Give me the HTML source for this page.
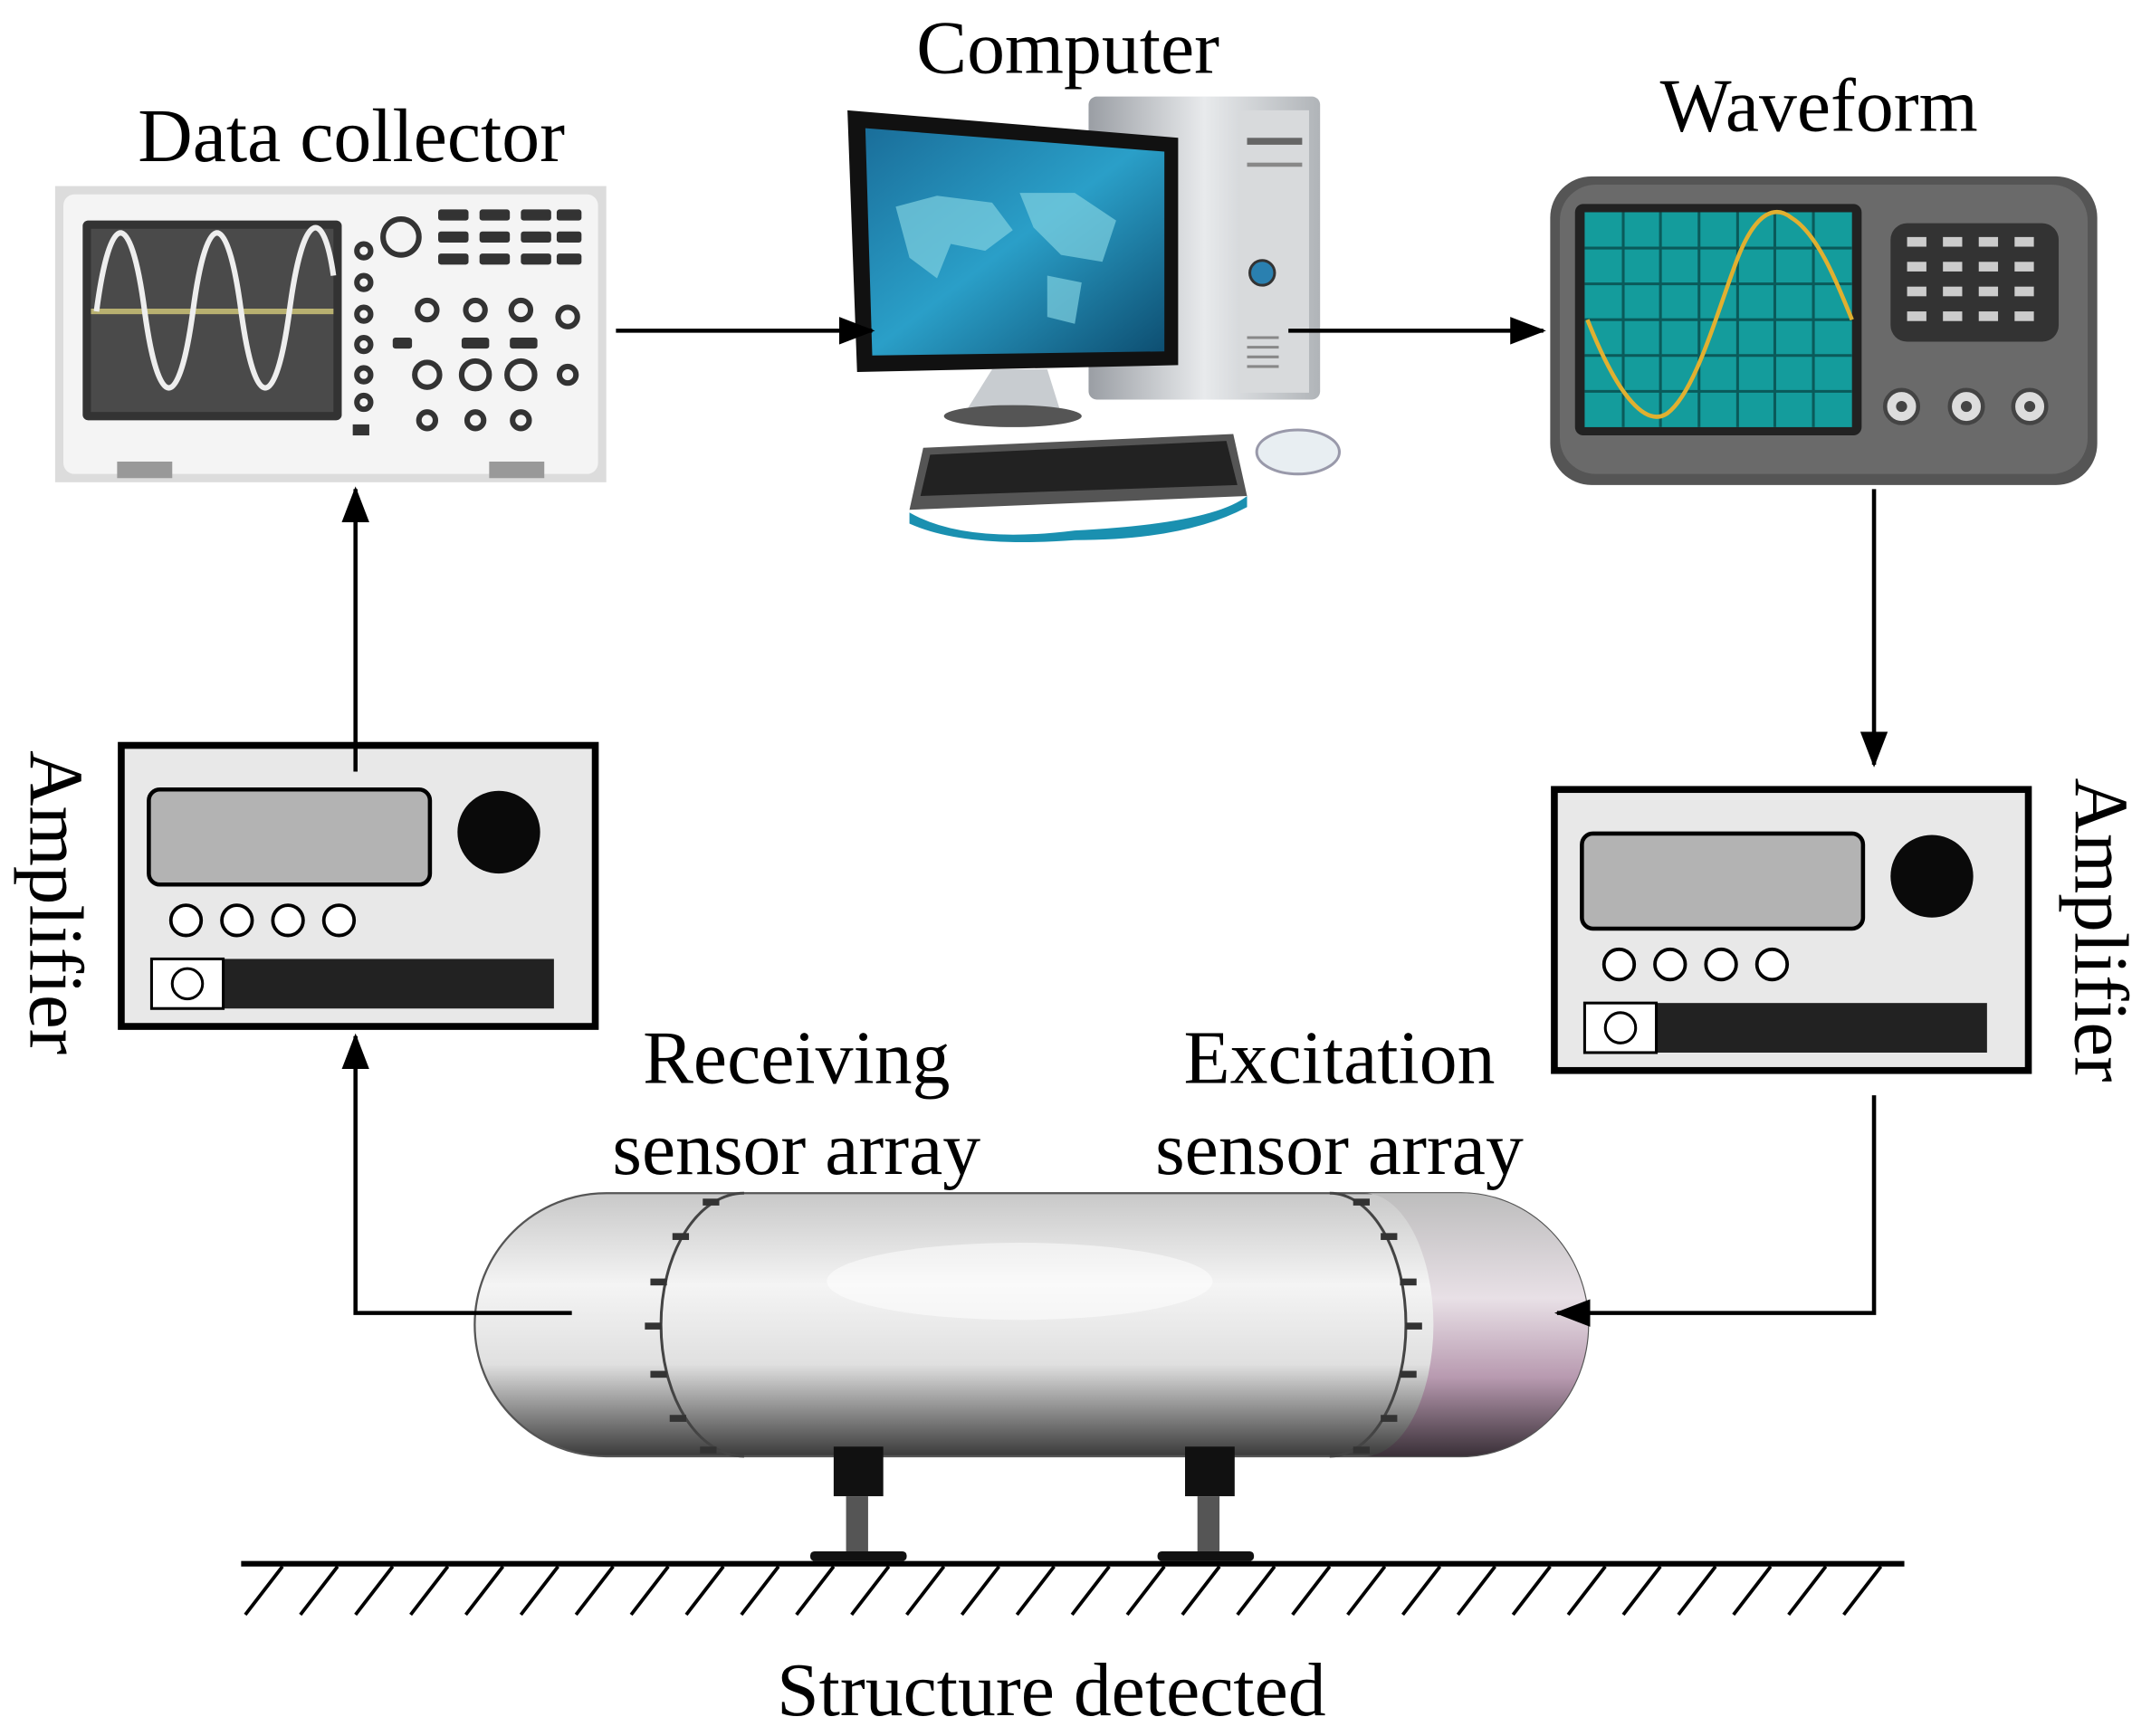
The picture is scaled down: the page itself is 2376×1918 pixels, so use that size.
<!DOCTYPE html>
<html><head><meta charset="utf-8"><style>
html,body{margin:0;padding:0;background:#fff}
svg{display:block}
text{font-family:"Liberation Serif",serif;fill:#000}
</style></head><body>
<svg width="2376" height="1918" viewBox="0 0 1561 1260" xmlns="http://www.w3.org/2000/svg">
<defs>
<marker id="ah" markerWidth="26" markerHeight="20" refX="24" refY="10" orient="auto" markerUnits="userSpaceOnUse" viewBox="0 0 26 20">
<path d="M0,0 L26,10 L0,20 z" fill="#000"/></marker>
<linearGradient id="pipe" x1="0" y1="0" x2="0" y2="1">
<stop offset="0" stop-color="#c8c8c8"/><stop offset="0.35" stop-color="#f4f4f4"/><stop offset="0.65" stop-color="#e0e0e0"/><stop offset="1" stop-color="#3a3a3a"/></linearGradient>
<linearGradient id="pipe2" x1="0" y1="0" x2="0" y2="1">
<stop offset="0" stop-color="#bdbdbd"/><stop offset="0.4" stop-color="#e8e0e6"/><stop offset="0.7" stop-color="#b89ab0"/><stop offset="1" stop-color="#3a3038"/></linearGradient>
<linearGradient id="scr" x1="0" y1="0" x2="1" y2="1">
<stop offset="0" stop-color="#1a6e9a"/><stop offset="0.5" stop-color="#2a9fc8"/><stop offset="1" stop-color="#0d4d70"/></linearGradient>
<linearGradient id="tower" x1="0" y1="0" x2="1" y2="0">
<stop offset="0" stop-color="#9a9ea4"/><stop offset="0.5" stop-color="#e8eaec"/><stop offset="1" stop-color="#b0b4b8"/></linearGradient>
</defs>

<text x="255" y="117" font-size="55" text-anchor="middle">Data collector</text>
<text x="775" y="53" font-size="55" text-anchor="middle">Computer</text>
<text x="1320" y="95" font-size="55" text-anchor="middle">Waveform</text>
<text x="578" y="786" font-size="55" text-anchor="middle">Receiving</text>
<text x="578" y="852" font-size="55" text-anchor="middle">sensor array</text>
<text x="972" y="786" font-size="55" text-anchor="middle">Excitation</text>
<text x="972" y="852" font-size="55" text-anchor="middle">sensor array</text>
<text x="763" y="1245" font-size="55" text-anchor="middle">Structure detected</text>
<text transform="translate(22,655) rotate(90)" font-size="56" text-anchor="middle">Amplifier</text>
<text transform="translate(1506,675) rotate(90)" font-size="56" text-anchor="middle">Amplifier</text>

<rect x="40" y="135" width="400" height="215" fill="#dcdcdc"/>
<rect x="46" y="141" width="388" height="203" fill="#f4f4f4" rx="8"/>
<rect x="60" y="160" width="188" height="145" fill="#333" rx="4"/>
<rect x="66" y="166" width="176" height="133" fill="#4a4a4a"/>
<line x1="66" y1="226" x2="242" y2="226" stroke="#b8b070" stroke-width="4"/>
<path d="M70,226 C80,150 95,150 105,226 C115,300 130,300 140,226 C150,150 165,150 175,226 C185,300 200,300 210,226 C220,150 235,150 242,200" fill="none" stroke="#eee" stroke-width="4"/>
<g fill="none" stroke="#333" stroke-width="4">
<circle cx="291" cy="172" r="13"/>
<circle cx="264" cy="182" r="5"/><circle cx="264" cy="205" r="5"/><circle cx="264" cy="228" r="5"/><circle cx="264" cy="250" r="5"/><circle cx="264" cy="272" r="5"/><circle cx="264" cy="292" r="5"/>
<circle cx="310" cy="225" r="7"/><circle cx="345" cy="225" r="7"/><circle cx="378" cy="225" r="7"/><circle cx="412" cy="230" r="7"/>
<circle cx="310" cy="272" r="9"/><circle cx="345" cy="272" r="10"/><circle cx="378" cy="272" r="10"/><circle cx="412" cy="272" r="6"/>
<circle cx="310" cy="305" r="6"/><circle cx="345" cy="305" r="6"/><circle cx="378" cy="305" r="6"/>
</g>
<g fill="#333">
<rect x="318" y="152" width="22" height="8" rx="2"/><rect x="348" y="152" width="22" height="8" rx="2"/><rect x="378" y="152" width="22" height="8" rx="2"/><rect x="404" y="152" width="18" height="8" rx="2"/>
<rect x="318" y="168" width="22" height="8" rx="2"/><rect x="348" y="168" width="22" height="8" rx="2"/><rect x="378" y="168" width="22" height="8" rx="2"/><rect x="404" y="168" width="18" height="8" rx="2"/>
<rect x="318" y="184" width="22" height="8" rx="2"/><rect x="348" y="184" width="22" height="8" rx="2"/><rect x="378" y="184" width="22" height="8" rx="2"/><rect x="404" y="184" width="18" height="8" rx="2"/>
<rect x="285" y="245" width="14" height="8" rx="2"/><rect x="335" y="245" width="20" height="8" rx="2"/><rect x="370" y="245" width="20" height="8" rx="2"/>
<rect x="256" y="308" width="12" height="8"/>
</g>
<rect x="85" y="335" width="40" height="12" fill="#999"/><rect x="355" y="335" width="40" height="12" fill="#999"/>

<rect x="790" y="70" width="168" height="220" fill="url(#tower)" rx="6"/>
<rect x="900" y="80" width="50" height="205" fill="#d8dadc"/>
<rect x="905" y="100" width="40" height="5" fill="#666"/>
<rect x="905" y="118" width="40" height="3" fill="#888"/>
<circle cx="916" cy="198" r="9" fill="#2a80b0" stroke="#333" stroke-width="2"/>
<g stroke="#888" stroke-width="2"><line x1="905" y1="245" x2="928" y2="245"/><line x1="905" y1="252" x2="928" y2="252"/><line x1="905" y1="259" x2="928" y2="259"/><line x1="905" y1="266" x2="928" y2="266"/></g>
<path d="M615,80 L855,100 L855,265 L622,270 Z" fill="#111"/>
<path d="M628,93 L845,110 L845,255 L633,258 Z" fill="url(#scr)"/>
<path d="M650,150 l30,-8 l40,5 l15,20 l-20,15 l-25,-5 l-10,25 l-20,-15 z M740,140 l40,0 l30,20 l-10,30 l-30,-5 l-20,-20 z M760,200 l25,5 l-5,30 l-20,-5 z" fill="#7fd0e0" opacity="0.7"/>
<path d="M720,268 L760,268 L770,300 L700,300 Z" fill="#c8ccd0"/>
<ellipse cx="735" cy="302" rx="50" ry="8" fill="#555"/>
<path d="M670,325 L895,315 L905,360 L660,370 Z" fill="#555"/>
<path d="M675,330 L890,320 L898,352 L668,360 Z" fill="#222"/>
<path d="M660,372 Q700,395 780,385 Q880,380 905,360 L905,368 Q860,392 780,392 Q700,398 660,380 Z" fill="#1a90b0"/>
<ellipse cx="942" cy="328" rx="30" ry="16" fill="#e8eef2" stroke="#99a" stroke-width="2"/>

<rect x="1125" y="128" width="397" height="224" rx="30" fill="#555"/>
<rect x="1132" y="134" width="383" height="210" rx="26" fill="#6a6a6a"/>
<rect x="1143" y="148" width="208" height="168" rx="6" fill="#222"/>
<rect x="1150" y="154" width="194" height="156" fill="#149c9c"/>
<g stroke="#0a5a5a" stroke-width="2">
<line x1="1178" y1="154" x2="1178" y2="310"/><line x1="1205" y1="154" x2="1205" y2="310"/><line x1="1233" y1="154" x2="1233" y2="310"/><line x1="1261" y1="154" x2="1261" y2="310"/><line x1="1288" y1="154" x2="1288" y2="310"/><line x1="1316" y1="154" x2="1316" y2="310"/>
<line x1="1150" y1="180" x2="1344" y2="180"/><line x1="1150" y1="206" x2="1344" y2="206"/><line x1="1150" y1="232" x2="1344" y2="232"/><line x1="1150" y1="258" x2="1344" y2="258"/><line x1="1150" y1="284" x2="1344" y2="284"/>
</g>
<path d="M1152,232 C1175,290 1195,310 1210,300 C1230,285 1245,230 1260,190 C1275,150 1290,150 1300,158 C1320,170 1335,210 1344,232" fill="none" stroke="#e0b030" stroke-width="3"/>
<rect x="1372" y="162" width="122" height="86" rx="12" fill="#333"/>
<g fill="#ccc">
<rect x="1384" y="172" width="14" height="7"/><rect x="1410" y="172" width="14" height="7"/><rect x="1436" y="172" width="14" height="7"/><rect x="1462" y="172" width="14" height="7"/>
<rect x="1384" y="190" width="14" height="7"/><rect x="1410" y="190" width="14" height="7"/><rect x="1436" y="190" width="14" height="7"/><rect x="1462" y="190" width="14" height="7"/>
<rect x="1384" y="208" width="14" height="7"/><rect x="1410" y="208" width="14" height="7"/><rect x="1436" y="208" width="14" height="7"/><rect x="1462" y="208" width="14" height="7"/>
<rect x="1384" y="226" width="14" height="7"/><rect x="1410" y="226" width="14" height="7"/><rect x="1436" y="226" width="14" height="7"/><rect x="1462" y="226" width="14" height="7"/>
</g>
<g fill="#ddd" stroke="#444" stroke-width="3">
<circle cx="1380" cy="295" r="12"/><circle cx="1427" cy="295" r="12"/><circle cx="1473" cy="295" r="12"/></g>
<g fill="#444"><circle cx="1380" cy="295" r="4"/><circle cx="1427" cy="295" r="4"/><circle cx="1473" cy="295" r="4"/></g>

<g id="amp">
<rect x="88" y="541" width="344" height="204" fill="#e8e8e8" stroke="#000" stroke-width="5"/>
<rect x="108" y="573" width="204" height="69" rx="8" fill="#b3b3b3" stroke="#000" stroke-width="3"/>
<circle cx="362" cy="604" r="30" fill="#0a0a0a"/>
<g fill="#fff" stroke="#000" stroke-width="2.5"><circle cx="135" cy="668" r="11"/><circle cx="172" cy="668" r="11"/><circle cx="209" cy="668" r="11"/><circle cx="246" cy="668" r="11"/></g>
<rect x="110" y="696" width="292" height="36" fill="#222"/>
<rect x="110" y="696" width="52" height="36" fill="#fff" stroke="#000" stroke-width="2"/>
<circle cx="136" cy="714" r="11" fill="#fff" stroke="#000" stroke-width="2"/>
</g>
<use href="#amp" transform="translate(1040,32)"/>

<path d="M440,866 L1060,866 A92,95 0 0 1 1060,1057 L440,1057 A95,95 0 0 1 440,866 Z" fill="url(#pipe)" stroke="#555" stroke-width="1.5"/>
<path d="M990,866 L1060,866 A92,95 0 0 1 1060,1057 L990,1057 A50,95 0 0 0 990,866 Z" fill="url(#pipe2)"/>
<path d="M540,866 A60,95 0 0 0 540,1057" fill="none" stroke="#444" stroke-width="2"/>
<path d="M965,866 A55,95 0 0 1 965,1057" fill="none" stroke="#444" stroke-width="2"/>
<ellipse cx="740" cy="930" rx="140" ry="28" fill="#fff" opacity="0.5"/>
<g fill="#333">
<rect x="510" y="870" width="12" height="5"/><rect x="488" y="895" width="12" height="5"/><rect x="472" y="928" width="12" height="5"/><rect x="468" y="960" width="12" height="5"/><rect x="472" y="995" width="12" height="5"/><rect x="486" y="1027" width="12" height="5"/><rect x="508" y="1050" width="12" height="5"/>
<rect x="982" y="870" width="12" height="5"/><rect x="1002" y="895" width="12" height="5"/><rect x="1016" y="928" width="12" height="5"/><rect x="1020" y="960" width="12" height="5"/><rect x="1016" y="995" width="12" height="5"/><rect x="1002" y="1027" width="12" height="5"/><rect x="982" y="1050" width="12" height="5"/>
</g>
<rect x="605" y="1050" width="36" height="36" fill="#111"/>
<rect x="860" y="1050" width="36" height="36" fill="#111"/>
<rect x="614" y="1086" width="16" height="42" fill="#555"/>
<rect x="869" y="1086" width="16" height="42" fill="#555"/>
<rect x="588" y="1126" width="70" height="7" rx="3" fill="#111"/>
<rect x="840" y="1126" width="70" height="7" rx="3" fill="#111"/>
<line x1="175" y1="1135" x2="1382" y2="1135" stroke="#000" stroke-width="4"/>
<g stroke="#000" stroke-width="2.5">
<line x1="205" y1="1137" x2="178" y2="1172"/><line x1="245" y1="1137" x2="218" y2="1172"/><line x1="285" y1="1137" x2="258" y2="1172"/><line x1="325" y1="1137" x2="298" y2="1172"/><line x1="365" y1="1137" x2="338" y2="1172"/><line x1="405" y1="1137" x2="378" y2="1172"/><line x1="445" y1="1137" x2="418" y2="1172"/><line x1="485" y1="1137" x2="458" y2="1172"/><line x1="525" y1="1137" x2="498" y2="1172"/><line x1="565" y1="1137" x2="538" y2="1172"/><line x1="605" y1="1137" x2="578" y2="1172"/><line x1="645" y1="1137" x2="618" y2="1172"/><line x1="685" y1="1137" x2="658" y2="1172"/><line x1="725" y1="1137" x2="698" y2="1172"/><line x1="765" y1="1137" x2="738" y2="1172"/><line x1="805" y1="1137" x2="778" y2="1172"/><line x1="845" y1="1137" x2="818" y2="1172"/><line x1="885" y1="1137" x2="858" y2="1172"/><line x1="925" y1="1137" x2="898" y2="1172"/><line x1="965" y1="1137" x2="938" y2="1172"/><line x1="1005" y1="1137" x2="978" y2="1172"/><line x1="1045" y1="1137" x2="1018" y2="1172"/><line x1="1085" y1="1137" x2="1058" y2="1172"/><line x1="1125" y1="1137" x2="1098" y2="1172"/><line x1="1165" y1="1137" x2="1138" y2="1172"/><line x1="1205" y1="1137" x2="1178" y2="1172"/><line x1="1245" y1="1137" x2="1218" y2="1172"/><line x1="1285" y1="1137" x2="1258" y2="1172"/><line x1="1325" y1="1137" x2="1298" y2="1172"/><line x1="1365" y1="1137" x2="1338" y2="1172"/>
</g>

<g stroke="#000" stroke-width="3" fill="none">
<line x1="447" y1="240" x2="633" y2="240" marker-end="url(#ah)"/>
<line x1="935" y1="240" x2="1120" y2="240" marker-end="url(#ah)"/>
<line x1="1360" y1="355" x2="1360" y2="555" marker-end="url(#ah)"/>
<line x1="258" y1="560" x2="258" y2="355" marker-end="url(#ah)"/>
<polyline points="415,953 258,953 258,752" marker-end="url(#ah)"/>
<polyline points="1360,795 1360,953 1130,953" marker-end="url(#ah)"/>
</g>
</svg>
</body></html>
